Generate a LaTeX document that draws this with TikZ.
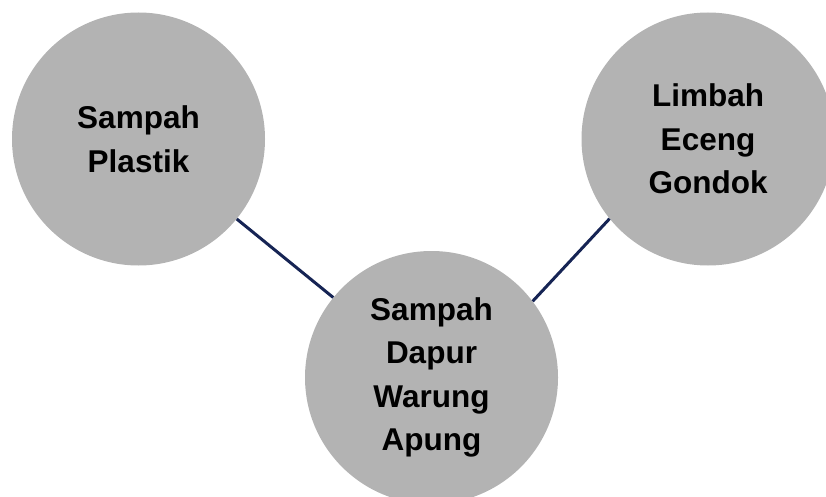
\documentclass[tikz,border=0pt]{standalone}
\usepackage{fontspec}
\setmainfont{Liberation Sans}
\definecolor{bubble}{RGB}{179,179,179}
\definecolor{navy}{RGB}{22,36,84}
\begin{document}
\begin{tikzpicture}[x=1pt,y=-1pt,
  bub/.style={circle,fill=bubble,draw=none,minimum size=253pt,inner sep=0pt,
    align=center,text=black,font=\fontsize{31.5}{43.5}\selectfont\bfseries},
  link/.style={draw=navy,line width=3pt}]
\useasboundingbox (0,0) rectangle (826,497);
\clip (0,0) rectangle (826,497);
\node[bub] (plastik) at (138.5,139) {Sampah\\Plastik};
\node[bub] (eceng) at (708,139) {Limbah\\Eceng\\Gondok};
\node[bub] (dapur) at (431.5,377.5) {Sampah\\Dapur\\Warung\\Apung};
\draw[link] (plastik) -- (dapur);
\draw[link] (eceng.219.6) -- (dapur.37);
\end{tikzpicture}
\end{document}
